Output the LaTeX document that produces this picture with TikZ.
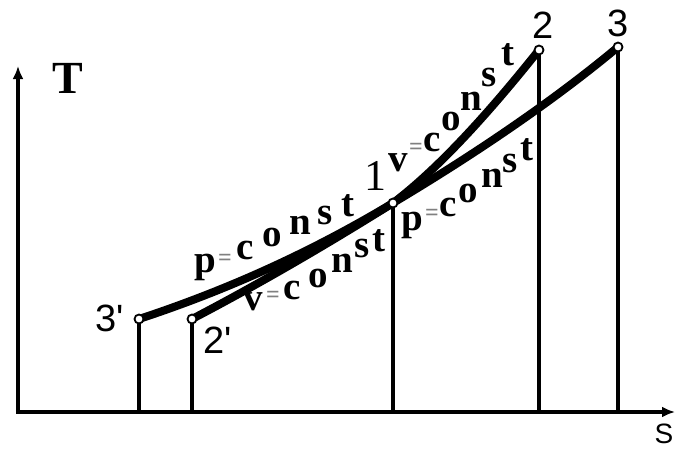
\documentclass[tikz,border=0pt]{standalone}
\usepackage{fontspec}
\setmainfont{Liberation Serif}
\newfontfamily\lsans{Liberation Sans}
\usetikzlibrary{arrows.meta}
\begin{document}
\begin{tikzpicture}[x=1pt,y=-1pt,
  curve/.style={line width=8pt,line cap=round},
  drop/.style={line width=3.5pt},
  axis/.style={line width=4.5pt,-{Latex[length=13pt,width=11pt]}},
  dot/.style={circle,draw,fill=white,line width=1.8pt,inner sep=0pt,minimum size=9pt},
  lt/.style={inner sep=0pt,font=\fontsize{39}{39}\selectfont\bfseries},
  eq/.style={inner sep=0pt,text=black!50,font=\fontsize{24}{24}\selectfont\bfseries},
  num/.style={inner sep=0pt,font=\fontsize{38}{38}\selectfont\lsans}]
\useasboundingbox (0,0) rectangle (676,451);
% points
\coordinate (o) at (18,412);
\coordinate (ytip) at (18,66);
\coordinate (xtip) at (675,412);
\coordinate (p3p) at (139,319);
\coordinate (p2p) at (192,319);
\coordinate (p1) at (393,203);
\coordinate (p2) at (539,50);
\coordinate (p3) at (618,47);
% axes
\draw[axis] (o) -- (ytip);
\draw[axis] ([xshift=-2.2pt]o) -- (xtip);
% drop lines
\foreach \p in {p3p,p2p,p1,p2,p3} \draw[drop] (\p) -- (\p |- o);
% curves
\draw[curve] (p3p) .. controls (224,291) and (308,254) .. (p1);
\draw[curve] (p2p) .. controls (259,284) and (326,245) .. (p1);
\draw[curve] (p1) .. controls (443,165) and (495,105) .. (p2);
\draw[curve] (p1) .. controls (460,163) and (545,108) .. (p3);
% dots
\node[dot] (d3p) at (p3p) {};
\node[dot] (d2p) at (p2p) {};
\node[dot] (d1) at (p1) {};
\node[dot] (d2) at (p2) {};
\node[dot] (d3) at (p3) {};
% labels
\node[inner sep=0pt,font=\fontsize{46}{46}\selectfont\bfseries] (T) at (68,78) {T};
\node[inner sep=0pt,font=\fontsize{28}{28}\selectfont\lsans] (S) at (664,434) {S};
\node[num] (l2) at (543,25) {2};
\node[num] (l3) at (618,23) {3};
\node[num] (l3p) at (110,318) {3'};
\node[num] (l2p) at (218,340) {2'};
\node[inner sep=0pt,font=\fontsize{44}{44}\selectfont] (l1) at (375,176) {1};
% curve texts
\foreach \c/\x/\y [count=\i] in {p/205/267,c/245/250,o/272/237,n/300/225,s/325/215,t/348/206}
  \node[lt] (pa\i) at (\x,\y) {\c};
\node[eq] (pae) at (225,260) {=};
\foreach \c/\x/\y [count=\i] in {v/253/302,c/292/290,o/318/278,n/342/263,s/362/248,t/379/241}
  \node[lt] (va\i) at (\x,\y) {\c};
\node[eq] (vae) at (273,297) {=};
\foreach \c/\x/\y [count=\i] in {p/412/225,c/448/207,o/468/193,n/492/178,s/510/163,t/527/150}
  \node[lt] (pb\i) at (\x,\y) {\c};
\node[eq] (pbe) at (432,215) {=};
\foreach \c/\x/\y [count=\i] in {v/398/163,c/432/142,o/451/121,n/471/101,s/489/77,t/508/55}
  \node[lt] (vb\i) at (\x,\y) {\c};
\node[eq] (vbe) at (416,149) {=};
\end{tikzpicture}
\end{document}
